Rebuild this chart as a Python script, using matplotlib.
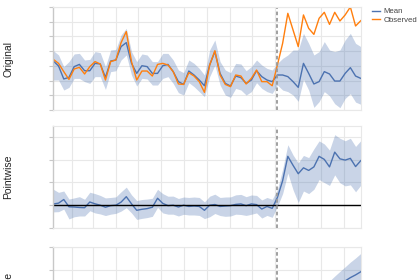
import numpy as np
import pandas as pd
import matplotlib
matplotlib.use("Agg")
import matplotlib.pyplot as plt
import matplotlib.dates as mdates

plt.rcParams['font.family'] = ['Liberation Sans', 'DejaVu Sans']

# weekly series, intervention at week 43
dates = pd.date_range('2019-01-07', periods=60, freq='W-MON')
intervention = 43

observed = [3.44, 3.17, 2.61, 2.08, 2.79, 2.90, 2.45, 2.95, 3.29, 3.13,
            2.04, 3.29, 3.40, 4.58, 5.33, 3.29, 2.04, 2.65, 2.65, 2.31,
            3.10, 3.17, 3.06, 2.61, 1.77, 1.74, 2.54, 2.31, 1.93, 1.20,
            3.06, 4.03, 2.38, 1.74, 1.59, 2.38, 2.31, 1.77, 2.15, 2.72,
            1.93, 1.93, 1.65, 3.06, 4.53, 6.57, 5.44, 4.31, 6.46, 5.55,
            5.14, 6.23, 6.64, 5.82, 6.64, 6.05, 6.46, 7.00, 5.71, 6.07]

pred_mean = [3.33, 2.99, 2.11, 2.22, 2.95, 3.10, 2.67, 2.67, 3.17, 3.13,
             2.22, 3.33, 3.40, 4.31, 4.58, 3.17, 2.49, 3.01, 2.95, 2.49,
             2.49, 3.01, 3.10, 2.61, 1.93, 1.74, 2.65, 2.38, 2.04, 1.65,
             3.06, 3.97, 2.49, 1.81, 1.63, 2.31, 2.20, 1.81, 2.04, 2.67,
             2.27, 2.04, 1.93, 2.38, 2.38, 2.27, 1.93, 1.54, 3.17, 2.49,
             1.77, 1.93, 2.61, 2.45, 1.97, 1.97, 2.49, 2.88, 2.31, 2.15]

pred_upper = [4.03, 3.74, 2.95, 3.29, 3.81, 3.85, 3.40, 3.44, 3.97, 3.90,
              2.95, 4.08, 4.12, 5.10, 5.55, 3.97, 3.29, 3.81, 3.74, 3.29,
              3.29, 3.85, 3.85, 3.40, 2.72, 2.54, 3.40, 3.17, 2.83, 2.38,
              4.08, 4.76, 3.29, 2.72, 2.54, 3.17, 3.13, 2.67, 2.95, 3.40,
              3.06, 2.83, 2.72, 3.17, 3.51, 3.74, 4.08, 4.08, 5.21, 4.53,
              3.74, 3.97, 4.65, 4.08, 3.97, 4.08, 4.76, 5.21, 4.53, 4.31]

pred_lower = [2.04, 2.04, 1.36, 1.54, 2.15, 2.15, 1.93, 1.81, 2.27, 2.27,
              1.40, 2.61, 2.67, 3.40, 3.74, 2.38, 1.63, 2.15, 2.11, 1.70,
              1.70, 2.15, 2.27, 1.81, 1.18, 1.02, 1.86, 1.59, 1.25, 0.91,
              2.27, 3.06, 1.70, 1.02, 0.86, 1.47, 1.36, 1.02, 1.25, 1.86,
              1.47, 1.25, 1.13, 1.70, 1.36, 1.25, 1.02, 0.59, 2.08, 1.36,
              0.18, 0.57, 1.25, 0.97, 0.43, 0.16, 0.79, 1.11, 0.54, 0.39]

observed = np.array(observed)
pred_mean = np.array(pred_mean)
pred_upper = np.array(pred_upper)
pred_lower = np.array(pred_lower)

# pointwise and cumulative effects
point = observed - pred_mean
point_lower = observed - pred_upper
point_upper = observed - pred_lower
post = np.arange(len(dates)) >= intervention
cum = np.cumsum(np.where(post, point, 0))
cum_lower = np.cumsum(np.where(post, point_lower, 0))
cum_upper = np.cumsum(np.where(post, point_upper, 0))

blue = '#4c72b0'
orange = '#ff7f0e'

fig = plt.figure(figsize=(4.2, 2.8), dpi=100)
ax1 = fig.add_axes([0.127, 0.607, 0.732, 0.368])
ax2 = fig.add_axes([0.127, 0.186, 0.732, 0.364])
ax3 = fig.add_axes([0.127, -0.246, 0.732, 0.364])

ax1.plot(dates, pred_mean, color=blue, lw=1.0, label='Mean')
ax1.plot(dates, observed, color=orange, lw=1.0, label='Observed')
ax1.fill_between(dates, pred_lower, pred_upper, color=blue, alpha=0.3, lw=0)
ax1.set_ylim(0, 7)
ax1.set_yticks(np.arange(0, 8, 1))
ax1.set_ylabel('Original')

ax2.plot(dates, point, color=blue, lw=1.0)
ax2.fill_between(dates, point_lower, point_upper, color=blue, alpha=0.3, lw=0)
ax2.axhline(0, color='black', lw=1.0)
ax2.set_ylim(-2, 6.97)
ax2.set_yticks([-2, 0, 2, 4, 6])
ax2.set_ylabel('Pointwise')

ax3.plot(dates, cum, color=blue, lw=1.0)
ax3.fill_between(dates, cum_lower, cum_upper, color=blue, alpha=0.3, lw=0)
ax3.set_ylim(90 - 4.47 * 28.5, 90)
ax3.set_yticks(90 - 28.5 * np.arange(5))
ax3.set_ylabel('Cumulative')

for ax in [ax1, ax2, ax3]:
    ax.set_xlim(dates[0], dates[-1])
    ax.xaxis.set_major_locator(mdates.MonthLocator())
    ax.grid(True, color='#e8e8e8', lw=0.8)
    ax.set_axisbelow(True)
    ax.axvline(dates[intervention], color='#999999', lw=1.3, ls=(0, (2, 1.5)))
    ax.tick_params(axis='y', length=3, width=0.8, color='#c8c8c8', labelleft=False)
    ax.tick_params(axis='x', length=0, labelbottom=False)
    for s in ax.spines.values():
        s.set_color('#e8e8e8')
        s.set_linewidth(0.8)
    ax.spines['left'].set_color('#c8c8c8')
    ax.spines['left'].set_linewidth(1.0)
    ax.yaxis.label.set_size(7.5)
    ax.yaxis.label.set_color('#222222')
    ax.yaxis.set_label_coords(-0.131, 0.5)

ax1.legend(loc='upper left', bbox_to_anchor=(1.025, 1.02), frameon=False, fontsize=5.6,
           handlelength=1.1, handletextpad=0.4, labelspacing=0.1, borderaxespad=0,
           labelcolor='#444444')

fig.savefig('out.png', dpi=100)
